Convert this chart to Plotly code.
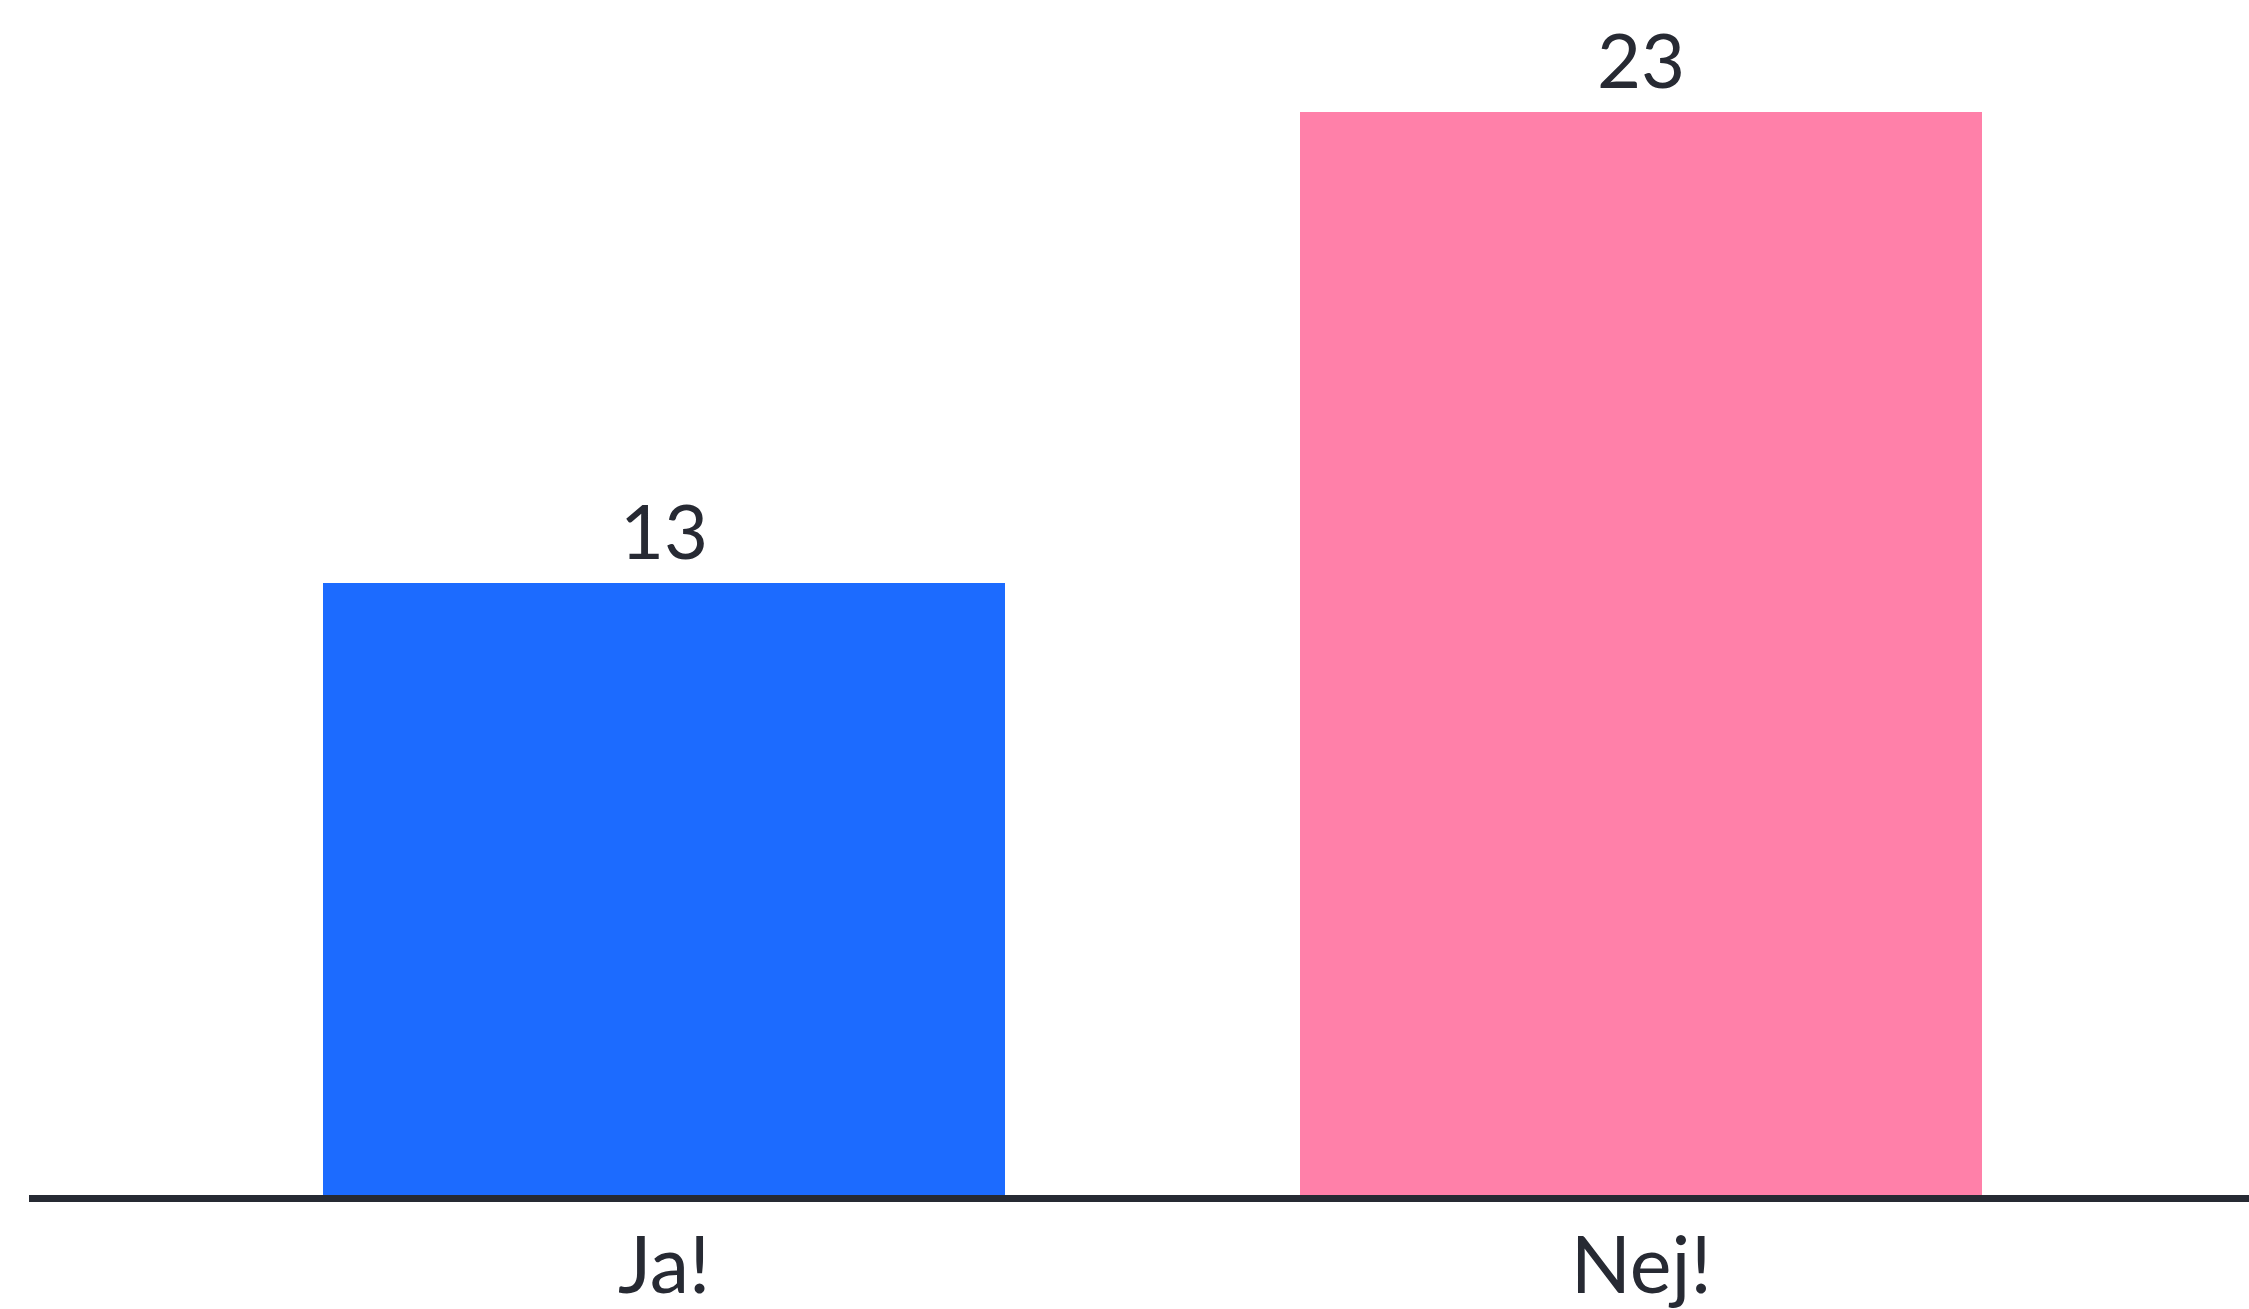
import plotly.graph_objects as go

categories = ["Ja!", "Nej!"]
values = [13, 23]
colors = ["#1c6bff", "#ff80a9"]

W, H = 2249, 1309
text_color = "#272a33"
font_family = "Lato, Noto Sans, sans-serif"

fig = go.Figure()
fig.add_trace(go.Bar(
    x=categories,
    y=values,
    width=0.698,
    marker=dict(color=colors, line=dict(width=0)),
    hoverinfo="skip",
))

for c, v in zip(categories, values):
    fig.add_annotation(
        x=c, y=v, text=str(v), showarrow=False,
        yanchor="bottom", yshift=6,
        font=dict(size=76, color=text_color, family=font_family),
    )

fig.update_layout(
    width=W, height=H,
    margin=dict(l=29, r=0, t=0, b=114),
    paper_bgcolor="white",
    plot_bgcolor="white",
    showlegend=False,
    bargap=0,
    xaxis=dict(
        range=[-0.650, 1.622],
        automargin=False,
        showline=True, linecolor="#262a33", linewidth=7,
        showgrid=False, zeroline=False,
        ticks="", ticklabelstandoff=-4,
        tickfont=dict(size=79, color=text_color, family=font_family),
        fixedrange=True,
    ),
    yaxis=dict(
        range=[0, 25.38],
        automargin=False,
        showgrid=False, zeroline=False, showline=False,
        showticklabels=False, fixedrange=True,
    ),
)

fig.write_html(
    "out.html",
    config={"displayModeBar": False},
    post_script="document.body.style.margin='0';document.body.style.overflow='hidden';",
)
